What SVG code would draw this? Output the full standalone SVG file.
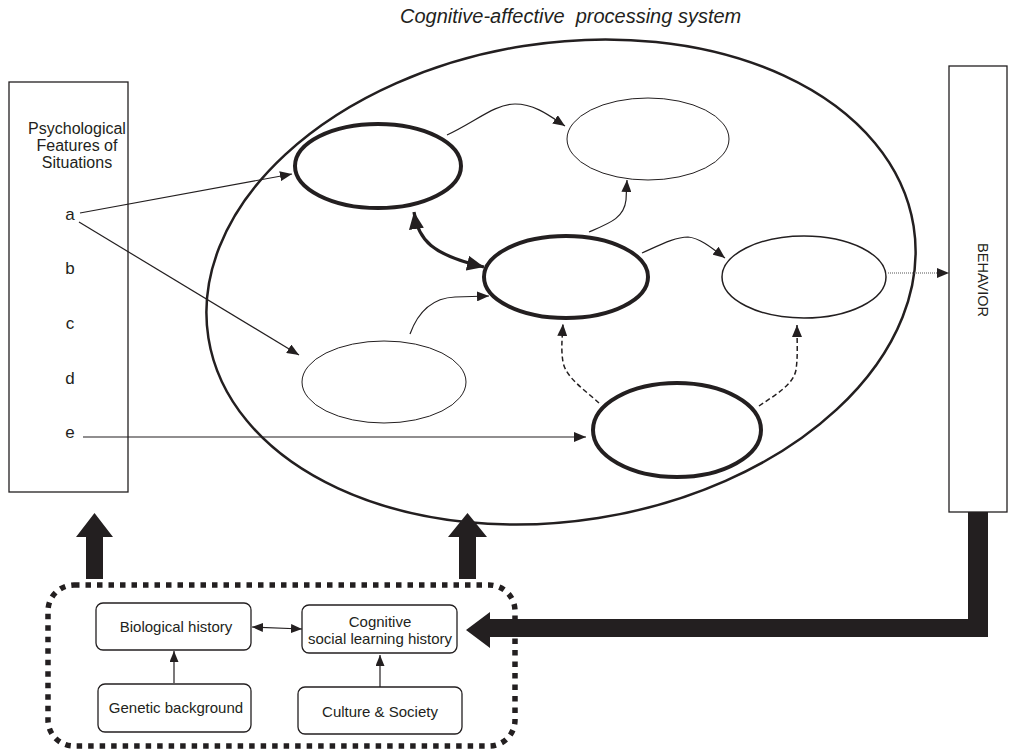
<svg xmlns="http://www.w3.org/2000/svg" width="1013" height="753" viewBox="0 0 1013 753">
<defs>
<style>
.t{font-family:"Liberation Sans",Arial,sans-serif;fill:#231f20}
.box{fill:#fff;stroke:#231f20;stroke-width:1.3}
.thin{fill:none;stroke:#231f20;stroke-width:1.2}
.dash{fill:none;stroke:#231f20;stroke-width:1.5;stroke-dasharray:5,3}
.thick{fill:#fff;stroke:#231f20;stroke-width:4}
.solid{fill:#231f20}
</style>
<marker id="ah" markerUnits="userSpaceOnUse" markerWidth="12" markerHeight="10" refX="12" refY="5" orient="auto"><path d="M0,0 L12,5 L0,10 z" fill="#231f20"/></marker>
<marker id="ahs" markerUnits="userSpaceOnUse" markerWidth="11" markerHeight="9" refX="11" refY="4.5" orient="auto-start-reverse"><path d="M0,0 L11,4.5 L0,9 z" fill="#231f20"/></marker>
<marker id="ahb" markerUnits="userSpaceOnUse" markerWidth="17" markerHeight="15" refX="17" refY="7.5" orient="auto-start-reverse"><path d="M0,0 L17,7.5 L0,15 z" fill="#231f20"/></marker>
</defs>
<rect width="1013" height="753" fill="#fff"/>
<text class="t" x="400" y="23" font-size="20" font-style="italic" xml:space="preserve">Cognitive-affective  processing system</text>
<g id="system">
<ellipse cx="561" cy="282" rx="357" ry="239" transform="rotate(-9 561 282)" fill="none" stroke="#231f20" stroke-width="2.5"/>
</g>
<g id="situations">
<rect x="9" y="82" width="119" height="410" class="box"/>
<text class="t" font-size="16" text-anchor="middle"><tspan x="77" y="134">Psychological</tspan><tspan x="77" y="151">Features of</tspan><tspan x="77" y="168">Situations</tspan></text>
<text class="t" font-size="17" text-anchor="middle"><tspan x="70" y="220">a</tspan><tspan x="70" y="274">b</tspan><tspan x="70" y="329">c</tspan><tspan x="70" y="384">d</tspan><tspan x="70" y="438">e</tspan></text>
</g>
<g id="behavior">
<rect x="949" y="66" width="58" height="446" class="box"/>
<text class="t" font-size="14.5" text-anchor="middle" transform="translate(978 280) rotate(90)">BEHAVIOR</text>
</g>
<g id="unit1"><ellipse cx="378" cy="166" rx="83" ry="42" class="thick"/></g>
<g id="unit2"><ellipse cx="648" cy="139" rx="81" ry="41" fill="#fff" stroke="#231f20" stroke-width="1"/></g>
<g id="unit3"><ellipse cx="566" cy="277" rx="82" ry="41" class="thick"/></g>
<g id="unit4"><ellipse cx="804" cy="277" rx="82" ry="41" fill="#fff" stroke="#231f20" stroke-width="1.5"/></g>
<g id="unit5"><ellipse cx="384" cy="382" rx="82" ry="41" fill="#fff" stroke="#231f20" stroke-width="1"/></g>
<g id="unit6"><ellipse cx="677" cy="430" rx="84" ry="47" class="thick"/></g>
<g id="history">
<rect x="48" y="585" width="467" height="161" rx="26" fill="none" stroke="#231f20" stroke-width="5.5" stroke-dasharray="5.5,6"/>
</g>
<g id="bio"><rect x="96" y="603" width="155" height="47" rx="7" class="box"/><text class="t" x="176" y="632" font-size="15" text-anchor="middle">Biological history</text></g>
<g id="cog"><rect x="302" y="605" width="155" height="48" rx="7" class="box"/><text class="t" font-size="15" text-anchor="middle"><tspan x="380" y="627">Cognitive</tspan><tspan x="380" y="644">social learning history</tspan></text></g>
<g id="genetic"><rect x="98" y="684" width="153" height="48" rx="7" class="box"/><text class="t" x="176" y="713" font-size="15" text-anchor="middle">Genetic background</text></g>
<g id="culture"><rect x="298" y="687" width="164" height="47" rx="7" class="box"/><text class="t" x="380" y="717" font-size="15" text-anchor="middle">Culture &amp; Society</text></g>
<g id="connectors">
<path class="thin" d="M80,213 L292,174" marker-end="url(#ah)"/>
<path class="thin" d="M79,222 L299,355" marker-end="url(#ah)"/>
<path class="thin" d="M83,437 L586,437" marker-end="url(#ah)"/>
<path class="thin" d="M447,135 C475,122 495,104 515,104 C535,104 550,116 565,126" marker-end="url(#ah)"/>
<path class="thin" d="M589,232 C610,223 624,218 626,200 L627,180" marker-end="url(#ah)" stroke-width="1.6"/>
<path d="M414,212 C418,240 432,255 484,267" fill="none" stroke="#231f20" stroke-width="3.2" marker-start="url(#ahb)" marker-end="url(#ahb)"/>
<path class="thin" d="M410,334 C418,312 432,298 455,297 L489,296" marker-end="url(#ah)"/>
<path class="thin" d="M642,253 C660,245 675,237 688,237 C700,238 712,248 725,258" marker-end="url(#ah)" stroke-width="1.6"/>
<path d="M888,273 L949,273" fill="none" stroke="#555" stroke-width="1" stroke-dasharray="1,1" marker-end="url(#ah)"/>
<path class="dash" d="M599,403 C585,390 566,378 563,362 C561,350 562,340 563,324" marker-end="url(#ah)"/>
<path class="dash" d="M759,406 C775,395 793,385 796,370 C798,355 797,345 797,325" marker-end="url(#ah)"/>
<path class="thin" d="M252,627 L302,629" marker-start="url(#ahs)" marker-end="url(#ahs)"/>
<path class="thin" d="M174,683 L174,651" marker-end="url(#ahs)"/>
<path class="thin" d="M380,687 L380,655" marker-end="url(#ahs)"/>
<path class="solid" d="M86,579 V537 H76 L94.5,513 L113,537 H103 V579 Z"/>
<path class="solid" d="M459,579 V537 H448 L467.5,513 L487,537 H476 V579 Z"/>
<path class="solid" d="M968,512 H988 V637 H490 V648 L466,630 L490,612 V619 H968 Z"/>
</g>
</svg>
